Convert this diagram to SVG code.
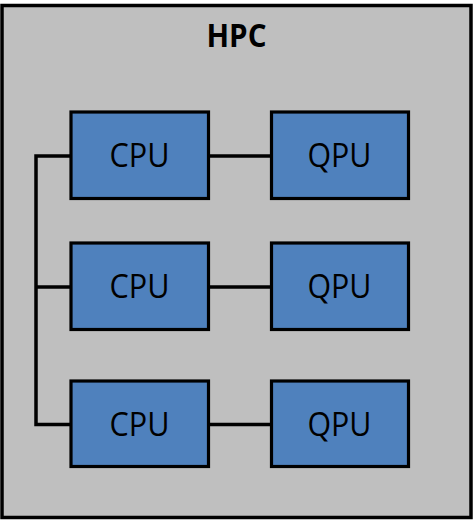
<svg xmlns="http://www.w3.org/2000/svg" width="473" height="520" viewBox="0 0 473 520">
<style>
.box{fill:#4F81BD;stroke:#000;stroke-width:3.2}
.lbl{font-family:"Open Sans","Liberation Sans",Arial,sans-serif;font-size:32px;fill:#000;text-anchor:middle}
.conn{stroke:#000;stroke-width:3.5;fill:none}
</style>
<g id="hpc">
<rect x="2" y="5.5" width="469" height="512" fill="#BFBFBF" stroke="#000" stroke-width="3.5"/>
<text x="236.5" y="47" font-family="'Open Sans','Liberation Sans',Arial,sans-serif" font-size="33" font-weight="bold" text-anchor="middle" textLength="60" lengthAdjust="spacingAndGlyphs">HPC</text>
</g>
<g id="connectors">
<polyline class="conn" points="71,156 36,156 36,424.5 71,424.5"/>
<line class="conn" x1="36" y1="287" x2="71" y2="287"/>
<line class="conn" x1="208.5" y1="156" x2="271.5" y2="156"/>
<line class="conn" x1="208.5" y1="287" x2="271.5" y2="287"/>
<line class="conn" x1="208.5" y1="424.5" x2="271.5" y2="424.5"/>
</g>
<g id="cpu1"><rect class="box" x="71" y="112" width="137.5" height="86.5"/><text class="lbl" x="139.5" y="167" textLength="60" lengthAdjust="spacingAndGlyphs">CPU</text></g>
<g id="qpu1"><rect class="box" x="271.5" y="112" width="137" height="86.5"/><text class="lbl" x="339.5" y="167" textLength="64" lengthAdjust="spacingAndGlyphs">QPU</text></g>
<g id="cpu2"><rect class="box" x="71" y="243" width="137.5" height="86.5"/><text class="lbl" x="139.5" y="298" textLength="60" lengthAdjust="spacingAndGlyphs">CPU</text></g>
<g id="qpu2"><rect class="box" x="271.5" y="243" width="137" height="86.5"/><text class="lbl" x="339.5" y="298" textLength="64" lengthAdjust="spacingAndGlyphs">QPU</text></g>
<g id="cpu3"><rect class="box" x="71" y="381" width="137.5" height="85.5"/><text class="lbl" x="139.5" y="436" textLength="60" lengthAdjust="spacingAndGlyphs">CPU</text></g>
<g id="qpu3"><rect class="box" x="271.5" y="381" width="137" height="85.5"/><text class="lbl" x="339.5" y="436" textLength="64" lengthAdjust="spacingAndGlyphs">QPU</text></g>
</svg>
